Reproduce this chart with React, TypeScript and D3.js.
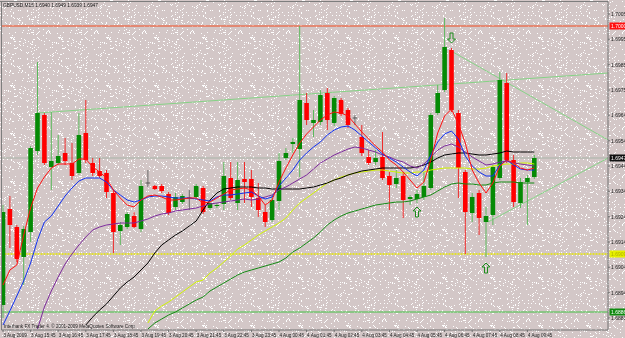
import React, { useEffect } from "react";
import * as d3 from "d3";

// ---------- DATA (GBPUSD, M15) ----------
const symbolTitle = "GBPUSD,M15";
const copyright = "Interbank FX Trader 4, \u00a9 2001-2009 MetaQuotes Software Corp.";

const timeLabels = [
  "3 Aug 2009", "3 Aug 15:45", "3 Aug 16:45", "3 Aug 17:45", "3 Aug 18:45",
  "3 Aug 19:45", "3 Aug 20:45", "3 Aug 21:45", "3 Aug 22:45", "3 Aug 23:45",
  "4 Aug 00:45", "4 Aug 01:45", "4 Aug 02:45", "4 Aug 03:45", "4 Aug 04:45",
  "4 Aug 05:45", "4 Aug 06:45", "4 Aug 07:45", "4 Aug 08:45", "4 Aug 09:45",
];
const timeLabelBars = [0, 4, 8, 12, 16, 20, 24, 28, 32, 36, 40, 44, 48, 52, 56, 60, 64, 68, 72, 76];

const priceTicks = [1.7005, 1.69949, 1.69847, 1.69746, 1.69645, 1.69543, 1.69442, 1.69341, 1.69239, 1.69138, 1.69037, 1.68935, 1.68834];
const priceTickLabels = ["1.7005", "1.6995", "1.6985", "1.6975", "1.6964", "1.6954", "1.6944", "1.6934", "1.6924", "1.6914", "1.6904", "1.6894", "1.6883"];

const open = [1.68886, 1.69270, 1.69198, 1.69078, 1.69178, 1.69502, 1.69646, 1.69438, 1.69454, 1.69494,
  1.69454, 1.69414, 1.69574, 1.69454, 1.69422, 1.69414, 1.69334, 1.69182, 1.69198, 1.69242,
  1.69190, 1.69374, 1.69362, 1.69362, 1.69330, 1.69278, 1.69298, 1.69314, 1.69318, 1.69354,
  1.69274, 1.69282, 1.69290, 1.69394, 1.69294, 1.69390, 1.69390, 1.69314, 1.69258, 1.69226,
  1.69302, 1.69474, 1.69530, 1.69510, 1.69694, 1.69614, 1.69618, 1.69734, 1.69614, 1.69706,
  1.69666, 1.69634, 1.69558, 1.69478, 1.69458, 1.69478, 1.69402, 1.69370, 1.69402, 1.69310,
  1.69310, 1.69318, 1.69354, 1.69654, 1.69746, 1.69906, 1.69654, 1.69418, 1.69254, 1.69334,
  1.69218, 1.69246, 1.69394, 1.69774, 1.69466, 1.69294, 1.69378, 1.69398];
const high = [1.69286, 1.69322, 1.69206, 1.69202, 1.69522, 1.69858, 1.69654, 1.69658, 1.69566, 1.69554,
  1.69534, 1.69654, 1.69706, 1.69474, 1.69474, 1.69426, 1.69346, 1.69218, 1.69258, 1.69258,
  1.69386, 1.69426, 1.69366, 1.69370, 1.69338, 1.69334, 1.69330, 1.69346, 1.69370, 1.69362,
  1.69302, 1.69294, 1.69458, 1.69458, 1.69458, 1.69458, 1.69426, 1.69374, 1.69286, 1.69326,
  1.69494, 1.69514, 1.69554, 1.70002, 1.69734, 1.69666, 1.69746, 1.69754, 1.69722, 1.69714,
  1.69674, 1.69646, 1.69606, 1.69506, 1.69506, 1.69578, 1.69418, 1.69426, 1.69418, 1.69326,
  1.69346, 1.69418, 1.69654, 1.69766, 1.70034, 1.69914, 1.69666, 1.69426, 1.69334, 1.69346,
  1.69278, 1.69446, 1.69818, 1.69814, 1.69486, 1.69394, 1.69406, 1.69486];
const low = [1.68834, 1.69114, 1.69058, 1.68966, 1.69138, 1.69486, 1.69446, 1.69346, 1.69446, 1.69446,
  1.69386, 1.69406, 1.69454, 1.69402, 1.69394, 1.69314, 1.69094, 1.69126, 1.69190, 1.69194,
  1.69178, 1.69358, 1.69346, 1.69334, 1.69246, 1.69266, 1.69290, 1.69266, 1.69310, 1.69250,
  1.69266, 1.69274, 1.69266, 1.69306, 1.69266, 1.69294, 1.69278, 1.69238, 1.69198, 1.69218,
  1.69266, 1.69466, 1.69494, 1.69398, 1.69606, 1.69558, 1.69606, 1.69586, 1.69602, 1.69642,
  1.69594, 1.69606, 1.69482, 1.69446, 1.69446, 1.69386, 1.69266, 1.69354, 1.69234, 1.69286,
  1.69294, 1.69306, 1.69346, 1.69646, 1.69738, 1.69658, 1.69314, 1.69090, 1.69218, 1.69166,
  1.69078, 1.69206, 1.69386, 1.69454, 1.69278, 1.69274, 1.69206, 1.69390];
const close = [1.69258, 1.69206, 1.69070, 1.69190, 1.69514, 1.69654, 1.69454, 1.69462, 1.69482, 1.69462,
  1.69402, 1.69566, 1.69466, 1.69414, 1.69402, 1.69338, 1.69178, 1.69206, 1.69250, 1.69198,
  1.69362, 1.69374, 1.69350, 1.69342, 1.69254, 1.69318, 1.69322, 1.69314, 1.69362, 1.69258,
  1.69294, 1.69286, 1.69402, 1.69314, 1.69386, 1.69378, 1.69318, 1.69266, 1.69218, 1.69306,
  1.69462, 1.69494, 1.69538, 1.69706, 1.69626, 1.69626, 1.69726, 1.69626, 1.69714, 1.69650,
  1.69606, 1.69634, 1.69494, 1.69454, 1.69474, 1.69394, 1.69366, 1.69394, 1.69306, 1.69318,
  1.69330, 1.69362, 1.69646, 1.69734, 1.69918, 1.69666, 1.69434, 1.69258, 1.69318, 1.69234,
  1.69242, 1.69438, 1.69786, 1.69466, 1.69298, 1.69378, 1.69394, 1.69474];

const maRed = [1.68966, 1.69026, 1.69046, 1.69166, 1.69274, 1.69354, 1.69398, 1.69434, 1.69450, 1.69450,
  1.69450, 1.69470, 1.69470, 1.69438, 1.69418, 1.69394, 1.69346, 1.69314, 1.69286, 1.69278,
  1.69306, 1.69322, 1.69326, 1.69318, 1.69306, 1.69306, 1.69310, 1.69314, 1.69314, 1.69294,
  1.69298, 1.69314, 1.69330, 1.69346, 1.69350, 1.69354, 1.69346, 1.69322, 1.69286, 1.69306,
  1.69378, 1.69434, 1.69486, 1.69534, 1.69570, 1.69598, 1.69626, 1.69646, 1.69658, 1.69654,
  1.69642, 1.69610, 1.69578, 1.69550, 1.69522, 1.69498, 1.69466, 1.69446, 1.69418, 1.69386,
  1.69354, 1.69378, 1.69466, 1.69574, 1.69642, 1.69670, 1.69610, 1.69534, 1.69426, 1.69374,
  1.69334, 1.69374, 1.69442, 1.69466, 1.69454, 1.69434, 1.69426, 1.69434];
const maBlue = [1.68806, 1.68862, 1.68922, 1.68982, 1.69054, 1.69146, 1.69218, 1.69242, 1.69282, 1.69322,
  1.69354, 1.69382, 1.69394, 1.69394, 1.69394, 1.69378, 1.69346, 1.69326, 1.69306, 1.69298,
  1.69306, 1.69318, 1.69322, 1.69322, 1.69318, 1.69314, 1.69314, 1.69314, 1.69310, 1.69306,
  1.69302, 1.69318, 1.69326, 1.69326, 1.69330, 1.69334, 1.69338, 1.69322, 1.69310, 1.69318,
  1.69362, 1.69394, 1.69426, 1.69466, 1.69494, 1.69518, 1.69538, 1.69566, 1.69586, 1.69598,
  1.69602, 1.69586, 1.69562, 1.69538, 1.69514, 1.69490, 1.69474, 1.69458, 1.69438, 1.69418,
  1.69402, 1.69426, 1.69486, 1.69538, 1.69570, 1.69582, 1.69550, 1.69482, 1.69442, 1.69418,
  1.69402, 1.69402, 1.69446, 1.69466, 1.69446, 1.69430, 1.69426, 1.69426];
const maPurple = [null, null, null, null, null, 1.68790, 1.68878, 1.68942, 1.68998, 1.69050,
  1.69090, 1.69126, 1.69158, 1.69186, 1.69198, 1.69206, 1.69210, 1.69214, 1.69214, 1.69214,
  1.69222, 1.69230, 1.69242, 1.69250, 1.69254, 1.69262, 1.69266, 1.69270, 1.69274, 1.69282,
  1.69290, 1.69294, 1.69298, 1.69302, 1.69306, 1.69310, 1.69306, 1.69310, 1.69318, 1.69326,
  1.69346, 1.69358, 1.69374, 1.69390, 1.69406, 1.69430, 1.69454, 1.69470, 1.69486, 1.69498,
  1.69510, 1.69518, 1.69514, 1.69506, 1.69498, 1.69486, 1.69478, 1.69466, 1.69458, 1.69442,
  1.69434, 1.69450, 1.69478, 1.69506, 1.69522, 1.69530, 1.69518, 1.69498, 1.69478, 1.69462,
  1.69446, 1.69450, 1.69458, 1.69462, 1.69454, 1.69450, 1.69446, 1.69442];
const maBlack = [null, null, null, null, null, null, null, null, null, null,
  null, null, 1.68806, 1.68838, 1.68866, 1.68890, 1.68922, 1.68954, 1.68978, 1.68998,
  1.69026, 1.69054, 1.69094, 1.69126, 1.69146, 1.69166, 1.69182, 1.69202, 1.69222, 1.69266,
  1.69306, 1.69334, 1.69350, 1.69354, 1.69358, 1.69358, 1.69358, 1.69354, 1.69354, 1.69350,
  1.69350, 1.69350, 1.69350, 1.69350, 1.69354, 1.69358, 1.69366, 1.69374, 1.69386, 1.69394,
  1.69406, 1.69414, 1.69422, 1.69426, 1.69430, 1.69434, 1.69434, 1.69434, 1.69434, 1.69434,
  1.69438, 1.69446, 1.69458, 1.69474, 1.69486, 1.69490, 1.69494, 1.69494, 1.69490, 1.69486,
  1.69486, 1.69490, 1.69494, 1.69502, 1.69498, 1.69498, 1.69498, 1.69498];
const maLime = [null, null, null, null, null, null, null, null, null, null,
  null, null, null, null, null, null, null, null, null, null,
  null, 1.68814, 1.68862, 1.68882, 1.68898, 1.68918, 1.68938, 1.68958, 1.68978, 1.68986,
  1.69014, 1.69034, 1.69058, 1.69082, 1.69110, 1.69126, 1.69146, 1.69166, 1.69182, 1.69198,
  1.69214, 1.69234, 1.69266, 1.69294, 1.69314, 1.69334, 1.69354, 1.69374, 1.69386, 1.69398,
  1.69406, 1.69414, 1.69418, 1.69422, 1.69426, 1.69426, 1.69422, 1.69418, 1.69414, 1.69414,
  1.69418, 1.69418, 1.69426, 1.69430, 1.69434, 1.69434, 1.69434, 1.69434, 1.69430, 1.69430,
  1.69434, 1.69442, 1.69446, 1.69450, 1.69450, 1.69454, 1.69454, 1.69450];
const maGreen = [null, null, null, null, null, null, null, null, null, null,
  null, null, null, null, null, null, null, null, null, null,
  null, 1.68790, 1.68814, 1.68830, 1.68846, 1.68858, 1.68874, 1.68890, 1.68906, 1.68918,
  1.68942, 1.68958, 1.68974, 1.68990, 1.69006, 1.69018, 1.69026, 1.69034, 1.69042, 1.69050,
  1.69058, 1.69074, 1.69098, 1.69114, 1.69134, 1.69154, 1.69178, 1.69206, 1.69226, 1.69242,
  1.69254, 1.69262, 1.69270, 1.69278, 1.69286, 1.69290, 1.69294, 1.69298, 1.69298, 1.69302,
  1.69310, 1.69318, 1.69326, 1.69342, 1.69358, 1.69370, 1.69374, 1.69370, 1.69370, 1.69366,
  1.69366, 1.69374, 1.69378, 1.69378, 1.69378, 1.69374, 1.69374, 1.69374];

// horizontal levels: resistance, bid, yellow level, support
const levelPrices = [1.70002, 1.69474, 1.69090, 1.68858];
const levelLabels = ["1.7000", "1.6947", "1.6909", "1.6886"];

// trend lines (bar index, price)
const trendBarsA = [5, 87.7];
const trendPricesA = [1.69654, 1.69814];
const trendBarsB = [65.2, 87.7];
const trendPricesB = [1.69898, 1.69546];
const trendBarsC = [70.3, 87.7];
const trendPricesC = [1.69218, 1.69474];

// signal arrows
const arrowBars = [65, 60, 70];
const arrowPrices = [1.69954, 1.69258, 1.69034];
const arrowDirs = ["down", "up", "up"];

// ---------- STYLE ----------
const W = 625;
const H = 338;
const FRAME_R = 608;
const FRAME_T = 1.5;
const FRAME_B = 330;
const BG = "#d3c7c7";
const FONT = "'Liberation Sans', Arial, sans-serif";
const TILE = 48;

// deterministic speckle texture for the background (style only)
function makeSpeckles(): [number, number][] {
  const pts: [number, number][] = [];
  let s = 12345;
  const next = () => {
    s = (s * 1103515245 + 12345) % 2147483648;
    return s / 2147483648;
  };
  const count = Math.round(TILE * TILE * 0.085);
  for (let k = 0; k < count; k++) {
    pts.push([Math.floor(next() * TILE), Math.floor(next() * TILE)]);
  }
  return pts;
}
const speckles = makeSpeckles();

export default function App() {
  useEffect(() => {
    document.body.style.margin = "0";
  }, []);

  const x = d3.scaleLinear().domain([0, 77]).range([3, 534.3]);
  const y = d3.scaleLinear().domain([1.701, 1.6878]).range([1.5, 331.5]);

  const bars = open.map((o, i) => ({ i, o, h: high[i], l: low[i], c: close[i] }));

  const lineGen = d3
    .line<number | null>()
    .defined((d) => d != null)
    .x((_, i) => x(i))
    .y((d) => y(d as number));

  const mas = [
    { data: maGreen, color: "#138a13" },
    { data: maLime, color: "#d0f400" },
    { data: maBlack, color: "#000000" },
    { data: maPurple, color: "#7c2a9c" },
    { data: maBlue, color: "#1030f0" },
    { data: maRed, color: "#ff1010" },
  ];

  const trends = [
    { b: trendBarsA, p: trendPricesA },
    { b: trendBarsB, p: trendPricesB },
    { b: trendBarsC, p: trendPricesC },
  ];

  const levelStyles = [
    { stroke: "#f04a20", dash: "", w: 1, box: "#ff1010", text: "#ffffff" },
    { stroke: "#a7b3a7", dash: "", w: 1, box: "#101010", text: "#ffffff" },
    { stroke: "#e6e600", dash: "2,1", w: 1.5, box: "#e6f000", text: "#b0b000" },
    { stroke: "#45c045", dash: "", w: 1, box: "#108a10", text: "#ffffff" },
  ];

  const last = bars[bars.length - 1];
  const titleText = `${symbolTitle}  ${last.o.toFixed(4)} ${last.h.toFixed(4)} ${last.l.toFixed(4)} ${last.c.toFixed(4)}`;

  const bw = 4.6;

  return (
    <svg
      width={W}
      height={H}
      style={{ position: "fixed", left: 0, top: 0, display: "block" }}
      fontFamily={FONT}
    >
      <defs>
        <pattern id="dots" width={TILE} height={TILE} patternUnits="userSpaceOnUse">
          <rect width={TILE} height={TILE} fill={BG} />
          {speckles.map(([dx, dy], k) => (
            <rect key={k} x={dx} y={dy} width="1" height="1" fill="#ffffff" />
          ))}
        </pattern>
        <clipPath id="plot">
          <rect x={1.5} y={FRAME_T} width={FRAME_R - 1.5} height={FRAME_B - FRAME_T} />
        </clipPath>
      </defs>

      <rect x={0} y={0} width={W} height={H} fill="url(#dots)" />

      <g clipPath="url(#plot)">
        {levelPrices.map((p, k) => (
          <line
            key={"lv" + k}
            x1={1.5}
            x2={FRAME_R}
            y1={y(p)}
            y2={y(p)}
            stroke={levelStyles[k].stroke}
            strokeWidth={levelStyles[k].w}
            strokeDasharray={levelStyles[k].dash}
          />
        ))}

        {trends.map((t, k) => (
          <line
            key={"tr" + k}
            x1={x(t.b[0])}
            y1={y(t.p[0])}
            x2={x(t.b[1])}
            y2={y(t.p[1])}
            stroke="#86d286"
            strokeWidth={1}
          />
        ))}

        {bars.map((b) => {
          const cx = x(b.i);
          const bull = b.c > b.o;
          const doji = b.c === b.o;
          const wickColor = doji ? "#6a6a6a" : bull ? "#5cb85c" : "#ee2a2a";
          const top = y(Math.max(b.o, b.c));
          const bot = y(Math.min(b.o, b.c));
          return (
            <g key={"c" + b.i}>
              <line x1={cx} x2={cx} y1={y(b.h)} y2={y(b.l)} stroke={wickColor} strokeWidth={1} />
              {doji ? (
                <line x1={cx - bw / 2} x2={cx + bw / 2} y1={top} y2={top} stroke="#555555" strokeWidth={1} />
              ) : (
                <rect
                  x={cx - bw / 2}
                  y={top}
                  width={bw}
                  height={Math.max(1, bot - top)}
                  fill={bull ? "#058a05" : "#ff0000"}
                />
              )}
            </g>
          );
        })}

        {mas.map((m, k) => (
          <path key={"ma" + k} d={lineGen(m.data) || ""} fill="none" stroke={m.color} strokeWidth={1} />
        ))}

        {arrowBars.map((bi, k) => {
          const ax = x(bi);
          const ay = y(arrowPrices[k]);
          const d =
            arrowDirs[k] === "up"
              ? `M${ax},${ay - 5} L${ax + 4},${ay - 1} L${ax + 1.5},${ay - 1} L${ax + 1.5},${ay + 5} L${ax - 1.5},${ay + 5} L${ax - 1.5},${ay - 1} L${ax - 4},${ay - 1} Z`
              : `M${ax},${ay + 5} L${ax + 4},${ay + 1} L${ax + 1.5},${ay + 1} L${ax + 1.5},${ay - 5} L${ax - 1.5},${ay - 5} L${ax - 1.5},${ay + 1} L${ax - 4},${ay + 1} Z`;
          return <path key={"ar" + k} d={d} fill="none" stroke="#1c8c1c" strokeWidth={1} />;
        })}
      </g>

      <line x1={0} x2={FRAME_R} y1={FRAME_T} y2={FRAME_T} stroke="#7d7d7d" strokeWidth={1} />
      <line x1={1.5} x2={1.5} y1={FRAME_T} y2={FRAME_B} stroke="#7d7d7d" strokeWidth={1} />
      <line x1={FRAME_R} x2={FRAME_R} y1={FRAME_T} y2={FRAME_B} stroke="#707070" strokeWidth={1} />
      <line x1={1.5} x2={FRAME_R} y1={FRAME_B} y2={FRAME_B} stroke="#707070" strokeWidth={1} />

      {priceTicks.map((p, k) => (
        <g key={"pt" + k}>
          <line x1={FRAME_R} x2={FRAME_R + 2} y1={y(p)} y2={y(p)} stroke="#707070" strokeWidth={1} />
          <text x={611} y={y(p) + 1.8} fontSize={5} fill="#202020">
            {priceTickLabels[k]}
          </text>
        </g>
      ))}

      {levelPrices.map((p, k) => (
        <g key={"lb" + k}>
          <rect x={609.5} y={y(p) - 3.5} width={15.5} height={7} fill={levelStyles[k].box} />
          <text x={611} y={y(p) + 1.8} fontSize={5} fill={levelStyles[k].text}>
            {levelLabels[k]}
          </text>
        </g>
      ))}

      {timeLabelBars.map((bi, k) => (
        <g key={"tl" + k}>
          <line x1={x(bi)} x2={x(bi)} y1={FRAME_B} y2={FRAME_B + 2} stroke="#707070" strokeWidth={1} />
          <text x={x(bi) + 0.5} y={336.5} fontSize={4.6} fill="#202020">
            {timeLabels[k]}
          </text>
        </g>
      ))}

      <text x={3} y={6.8} fontSize={4.8} fill="#101010">
        {titleText}
      </text>
      <text x={4} y={328} fontSize={4.6} fill="#202020">
        {copyright}
      </text>
    </svg>
  );
}
